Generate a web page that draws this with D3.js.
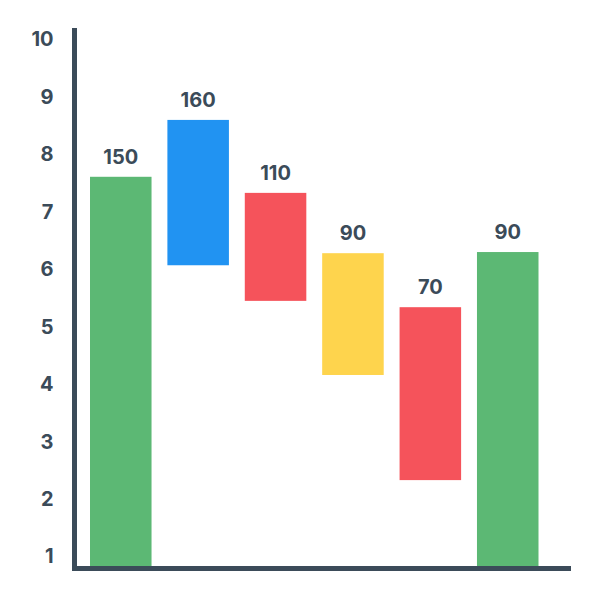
<!DOCTYPE html>
<html>
<head>
<meta charset="utf-8">
<script src="https://cdn.jsdelivr.net/npm/d3@7"></script>
<style>
  html, body { margin: 0; padding: 0; background: #ffffff; }
  svg { display: block; }
</style>
</head>
<body>
<svg id="chart" width="600" height="600"></svg>
<script>
// ---- data ----
const categories = ["A", "B", "C", "D", "E", "F"];
const barStart   = [0.8, 6.07, 5.45, 4.16, 2.33, 0.8];
const barEnd     = [7.61, 8.6, 7.33, 6.28, 5.34, 6.3];
const barLabels  = ["150", "160", "110", "90", "70", "90"];
const barColors  = ["#5cb874", "#2193f2", "#f5535b", "#fed44d", "#f5535b", "#5cb874"];
const tickValues = [1, 2, 3, 4, 5, 6, 7, 8, 9, 10];

// ---- layout ----
const svg = d3.select("#chart");
const axisColor = "#3b4b59";
const fontFamily = "Inter, 'Open Sans', sans-serif";
const axisX = 74.5;
const baseY = 568.5;

const y = d3.scaleLinear().domain([0.8, 10.2]).range([568, 28]);
const x = d3.scaleBand().domain(categories).range([90, 538.5]).paddingInner(0.205).paddingOuter(0);

// bars
svg.append("g").selectAll("rect")
  .data(categories)
  .join("rect")
  .attr("x", d => x(d))
  .attr("width", x.bandwidth())
  .attr("y", (d, i) => y(barEnd[i]))
  .attr("height", (d, i) => y(barStart[i]) - y(barEnd[i]))
  .attr("fill", (d, i) => barColors[i]);

// value labels
svg.append("g").selectAll("text")
  .data(categories)
  .join("text")
  .attr("x", d => x(d) + x.bandwidth() / 2)
  .attr("y", (d, i) => y(barEnd[i]) - 13)
  .attr("text-anchor", "middle")
  .attr("font-family", fontFamily)
  .attr("font-weight", 700)
  .attr("font-size", 20)
  .attr("fill", axisColor)
  .text((d, i) => barLabels[i]);

// y axis (labels only, custom line)
const yAxis = d3.axisLeft(y).tickValues(tickValues).tickSize(0).tickPadding(21).tickFormat(d3.format("d"));
const gy = svg.append("g").attr("transform", `translate(${axisX},0)`).call(yAxis);
gy.select(".domain").remove();
gy.selectAll("text")
  .attr("font-family", fontFamily)
  .attr("font-weight", 700)
  .attr("font-size", 20)
  .attr("fill", axisColor);

// axis lines
svg.append("line")
  .attr("x1", axisX).attr("x2", axisX)
  .attr("y1", 28).attr("y2", baseY + 2.5)
  .attr("stroke", axisColor).attr("stroke-width", 5);
svg.append("line")
  .attr("x1", axisX - 2.5).attr("x2", 571)
  .attr("y1", baseY).attr("y2", baseY)
  .attr("stroke", axisColor).attr("stroke-width", 5);
</script>
</body>
</html>
